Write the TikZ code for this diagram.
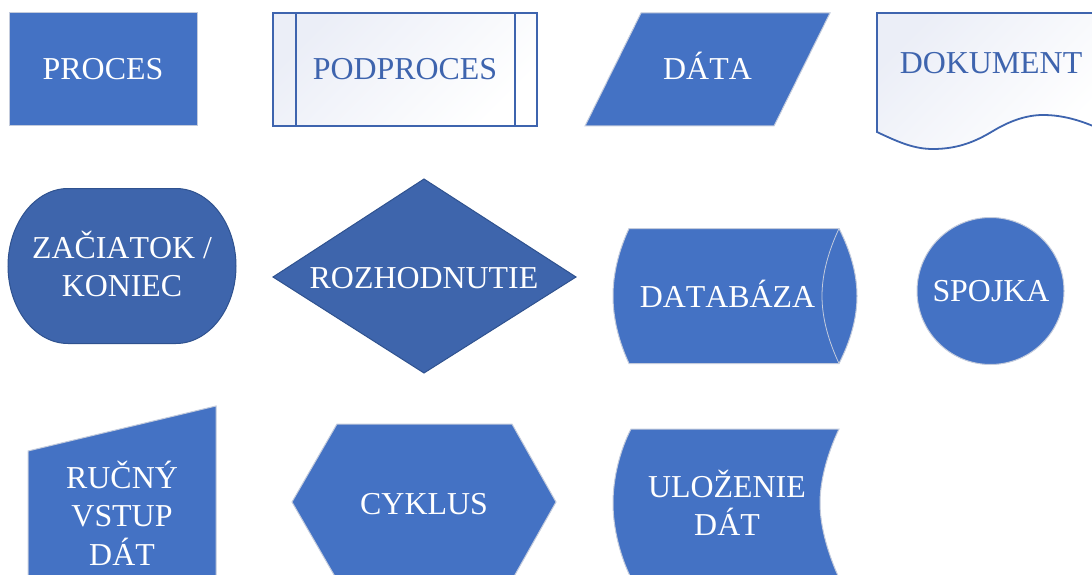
\documentclass[tikz,border=0pt]{standalone}
\usepackage{fontspec}
\setmainfont[Kerning=Off]{Liberation Serif}
\definecolor{fillblue}{HTML}{4472C4}
\definecolor{darkblue}{HTML}{3E65AC}
\definecolor{edgedark}{HTML}{2F528F}
\definecolor{edgelight}{HTML}{C3CBDC}
\definecolor{lineblue}{HTML}{3E64AE}
\definecolor{tintblue}{HTML}{EBEEF7}
\tikzset{
  x=1pt,y=-1pt,
  lightshape/.style={fill=fillblue,draw=edgelight,line width=1pt},
  darkshape/.style={fill=darkblue,draw=edgedark,line width=1pt},
  tintshape/.style={draw=lineblue,line width=1.8pt,shading=axis,top color=tintblue,middle color=white,bottom color=white,shading angle=45},
  label/.style={inner sep=0pt,outer sep=0pt,align=center,font=\fontsize{31.9}{38.5}\selectfont,text=white},
  bluelabel/.style={label,text=lineblue},
  innerline/.style={draw=edgelight,line width=0.8pt},
  tintline/.style={draw=lineblue,line width=2pt}
}
\begin{document}
\begin{tikzpicture}
\useasboundingbox (0,0) rectangle (1092,575);
\clip (0,0) rectangle (1092,575);
% Proces
\path[lightshape] (9,13) rectangle (197,126);
\node[label,anchor=base] (proces) at (103,80) {PROCES};
% Podproces
\path[tintshape] (273,13) rectangle (537,126);
\draw[tintline] (295.5,13) -- (295.5,126);
\draw[tintline] (515,13) -- (515,126);
\node[bluelabel,anchor=base] (podproces) at (405,80) {PODPROCES};
% Data
\path[lightshape] (641,13) -- (830,13) -- (774,126) -- (585,126) -- cycle;
\node[label,anchor=base] (data) at (707.5,80) {DÁTA};
% Dokument
\path[tintshape] (1100,13) -- (877,13) -- (877,132) .. controls (900,143) and (915,149) .. (933,149) .. controls (960,149) and (978,140) .. (993,131) .. controls (1008,122) and (1025,115) .. (1043,115) .. controls (1062,115) and (1080,120) .. (1100,129);
\node[bluelabel,anchor=base] (dokument) at (991,74) {DOKUMENT};
% Zaciatok / koniec
\path[darkshape] (68,188.5) -- (176,188.5) .. controls (209,188.5) and (236,223.5) .. (236,266) .. controls (236,308.5) and (209,343.5) .. (176,343.5) -- (68,343.5) .. controls (35,343.5) and (8,308.5) .. (8,266) .. controls (8,223.5) and (35,188.5) .. (68,188.5) -- cycle;
\node[label] (zaciatok) at (122,264) {ZAČIATOK /\\KONIEC};
% Rozhodnutie
\path[darkshape] (273,277) -- (424,179) -- (576,277) -- (424,373) -- cycle;
\node[label,anchor=base] (rozhodnutie) at (424,288) {ROZHODNUTIE};
% Databaza
\path[lightshape] (629,228.5) -- (839,228.5) .. controls (850,250) and (857,273) .. (857,296) .. controls (857,319) and (850,342) .. (839,363.5) -- (629,363.5) .. controls (619,342) and (613,319) .. (613,296) .. controls (613,273) and (619,250) .. (629,228.5) -- cycle;
\draw[innerline] (839,228.5) .. controls (829,250) and (822,273) .. (822,296) .. controls (822,319) and (829,342) .. (839,363.5);
\node[label,anchor=base] (databaza) at (727.5,307) {DATABÁZA};
% Spojka
\path[lightshape] (990.5,291) circle[radius=73.5];
\node[label,anchor=base] (spojka) at (991,301) {SPOJKA};
% Rucny vstup dat
\path[lightshape] (28,451) -- (216,406) -- (216,600) -- (28,600) -- cycle;
\node[label] (rucny) at (122,513) {RUČNÝ\\VSTUP\\DÁT};
% Cyklus
\path[lightshape] (292,502) -- (337,424) -- (512,424) -- (556,502) -- (512,580) -- (337,580) -- cycle;
\node[label,anchor=base] (cyklus) at (424,514) {CYKLUS};
% Ulozenie dat
\path[lightshape] (631,429) -- (839,429) .. controls (829,450) and (820,478) .. (820,503) .. controls (820,528) and (829,556) .. (839,578) -- (631,578) .. controls (620,556) and (613,528) .. (613,503) .. controls (613,478) and (620,450) .. (631,429) -- cycle;
\node[label] (ulozenie) at (727,503) {ULOŽENIE\\DÁT};
\end{tikzpicture}
\end{document}
